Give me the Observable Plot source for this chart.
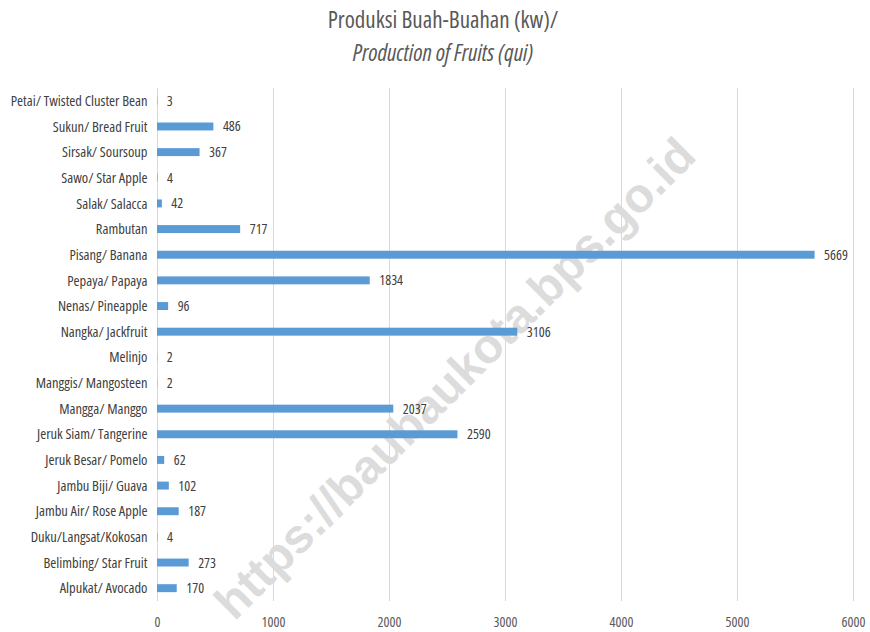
<!DOCTYPE html>
<html>
<head>
<meta charset="utf-8">
<script src="https://cdn.jsdelivr.net/npm/d3@7"></script>
<script src="https://cdn.jsdelivr.net/npm/@observablehq/plot@0.6"></script>
<style>
  html, body { margin: 0; padding: 0; background: #fff; }
  body { width: 870px; height: 632px; position: relative; overflow: hidden;
         font-family: "Open Sans", sans-serif; font-stretch: condensed; }
  .t { position: absolute; left: 8px; width: 870px; text-align: center; color: #595959; font-size: 23px; line-height: 26px; font-stretch: condensed; }
  #t1 { top: 6px; }
  #t2 { top: 39px; font-style: italic; font-stretch: 85%; }
  #chart { position: absolute; left: 0; top: 80px; }
  #chart svg text { font-stretch: condensed; }
</style>
</head>
<body>
<div class="t" id="t1">Produksi Buah-Buahan (kw)/</div>
<div class="t" id="t2">Production of Fruits (qui)</div>
<div id="chart"></div>
<script>
const categories = ["Petai/ Twisted Cluster Bean","Sukun/ Bread Fruit","Sirsak/ Soursoup","Sawo/ Star Apple","Salak/ Salacca","Rambutan","Pisang/ Banana","Pepaya/ Papaya","Nenas/ Pineapple","Nangka/ Jackfruit","Melinjo","Manggis/ Mangosteen","Mangga/ Manggo","Jeruk Siam/ Tangerine","Jeruk Besar/ Pomelo","Jambu Biji/ Guava","Jambu Air/ Rose Apple","Duku/Langsat/Kokosan","Belimbing/ Star Fruit","Alpukat/ Avocado"];
const values = [3,486,367,4,42,717,5669,1834,96,3106,2,2,2037,2590,62,102,187,4,273,170];
const xTicks = [0,1000,2000,3000,4000,5000,6000];
const watermark = ["https://baubaukota.bps.go.id"];

const data = categories.map((c, i) => ({category: c, value: values[i]}));
const font = '"Open Sans", sans-serif';

const chart = Plot.plot({
  width: 870,
  height: 552,
  marginLeft: 157,
  marginRight: 17,
  marginTop: 8,
  marginBottom: 31,
  style: {fontFamily: font, fontSize: "14px", color: "#404040", background: "#fff"},
  x: {domain: [0, 6000], ticks: xTicks, label: null},
  y: {domain: categories, paddingInner: 0.69, paddingOuter: 0.345, round: false, label: null},
  marks: [
    Plot.ruleX(xTicks, {stroke: "#d9d9d9", strokeWidth: 1}),
    Plot.text(watermark, {frameAnchor: "middle", text: d => d, rotate: -45, dx: -50, dy: 34,
      fontSize: 48, fontWeight: "bold", fill: "#dcdcdc", fontFamily: "'Liberation Sans', Arial, sans-serif"}),
    Plot.barX(data, {x: "value", y: "category", fill: "#5b9bd5"}),
    Plot.text(data, {x: "value", y: "category", text: d => String(d.value), textAnchor: "start", dx: 9, fill: "#404040", fontSize: 14}),
    Plot.axisX({ticks: xTicks, tickSize: 0, tickPadding: 16, tickFormat: d => String(d), fill: "#595959", fontSize: 14, label: null}),
    Plot.axisY({tickSize: 0, tickPadding: 10, fill: "#404040", fontSize: 14.5, label: null})
  ]
});
document.getElementById("chart").appendChild(chart);
</script>
</body>
</html>
